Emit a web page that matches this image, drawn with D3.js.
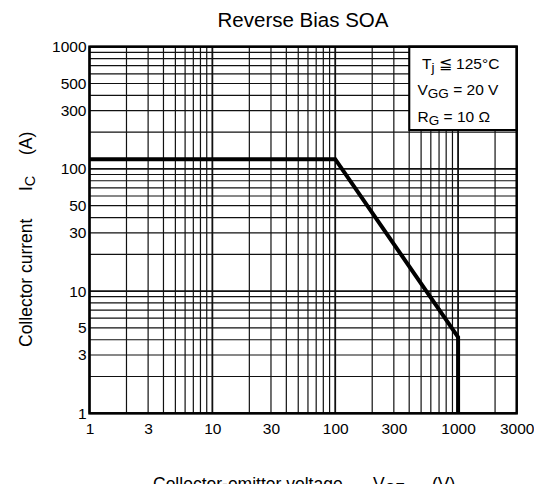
<!DOCTYPE html>
<html>
<head>
<meta charset="utf-8">
<script src="https://cdn.jsdelivr.net/npm/d3@7"></script>
<style>
  html, body { margin: 0; padding: 0; background: #fff; }
  svg { display: block; font-family: "Liberation Sans", Arial, sans-serif; }
</style>
</head>
<body>
<svg id="chart" width="534" height="484"></svg>
<script>
// Reverse-bias safe operating area boundary (collector-emitter voltage vs. collector current)
const boundaryVoltage = [1, 100, 1000, 1000];
const boundaryCurrent = [120, 120, 4.2, 1];

// Axis tick labels
const xTickValues = [1, 3, 10, 30, 100, 300, 1000, 3000];
const yTickValues = [1, 3, 5, 10, 30, 50, 100, 300, 500, 1000];

// Conditions shown in the box
const conditionLines = [
  { main: "T", sub: "j", rest: " \u2266 125\u00b0C" },
  { main: "V", sub: "GG", rest: " = 20 V" },
  { main: "R", sub: "G", rest: " = 10 \u03a9" }
];

const svg = d3.select("#chart");
const plotL = 89.5, plotR = 516.7, plotT = 46.7, plotB = 413.3;

const x = d3.scaleLog().domain([1, 3000]).range([plotL, plotR]);
const y = d3.scaleLog().domain([1, 1000]).range([plotB, plotT]);

// minor + major grid values
const xGrid = [];
for (let d = 1; d <= 1000; d *= 10) for (let m = 1; m <= 9; m++) { const v = d * m; if (v <= 3000) xGrid.push(v); }
const yGrid = [];
for (let d = 1; d <= 100; d *= 10) for (let m = 1; m <= 9; m++) yGrid.push(d * m);
yGrid.push(1000);

const isDecade = v => Math.abs(Math.log10(v) - Math.round(Math.log10(v))) < 1e-9;

const grid = svg.append("g");
grid.selectAll("line.v").data(xGrid).join("line")
  .attr("class", "v")
  .attr("x1", d => x(d)).attr("x2", d => x(d))
  .attr("y1", plotT).attr("y2", plotB)
  .attr("stroke", "#111")
  .attr("stroke-width", d => isDecade(d) ? 1.8 : 1.2);
grid.selectAll("line.h").data(yGrid).join("line")
  .attr("class", "h")
  .attr("x1", plotL).attr("x2", plotR)
  .attr("y1", d => y(d)).attr("y2", d => y(d))
  .attr("stroke", "#111")
  .attr("stroke-width", d => isDecade(d) ? 1.8 : 1.2);

// boundary curve
const line = d3.line().x(d => x(d[0])).y(d => y(d[1]));
svg.append("path")
  .datum(boundaryVoltage.map((v, i) => [v, boundaryCurrent[i]]))
  .attr("d", line)
  .attr("fill", "none")
  .attr("stroke", "#000")
  .attr("stroke-width", 4)
  .attr("stroke-linejoin", "miter");

// condition box
const boxLeft = 409.3, boxBottom = 130;
svg.append("rect")
  .attr("x", boxLeft).attr("y", plotT)
  .attr("width", plotR - boxLeft).attr("height", boxBottom - plotT)
  .attr("fill", "#fff").attr("stroke", "#000").attr("stroke-width", 2);

const condX = [422, 417.5, 417.5];
const condY = [69, 95, 121.5];
conditionLines.forEach((c, i) => {
  const t = svg.append("text")
    .attr("x", condX[i]).attr("y", condY[i])
    .attr("font-size", 15.5).attr("fill", "#000");
  t.append("tspan").text(c.main);
  t.append("tspan").attr("dy", 3).attr("font-size", 13.5).text(c.sub);
  t.append("tspan").attr("dy", -3).text(c.rest);
});

// frame
svg.append("rect")
  .attr("x", plotL).attr("y", plotT)
  .attr("width", plotR - plotL).attr("height", plotB - plotT)
  .attr("fill", "none").attr("stroke", "#000").attr("stroke-width", 2.5);

// axes (labels only; frame drawn above)
const xAxis = d3.axisBottom(x).tickValues(xTickValues).tickFormat(d3.format("d")).tickSize(0).tickPadding(10);
svg.append("g").attr("transform", `translate(0,${plotB})`).call(xAxis)
  .call(g => g.select(".domain").remove())
  .call(g => g.selectAll("text").attr("font-size", 15.5).attr("font-family", "Liberation Sans, Arial, sans-serif").attr("fill", "#000"));

const yAxis = d3.axisLeft(y).tickValues(yTickValues).tickFormat(d3.format("d")).tickSize(0).tickPadding(3);
svg.append("g").attr("transform", `translate(${plotL},0)`).call(yAxis)
  .call(g => g.select(".domain").remove())
  .call(g => g.selectAll("text").attr("font-size", 15.5).attr("font-family", "Liberation Sans, Arial, sans-serif").attr("fill", "#000"));

// title
svg.append("text")
  .attr("x", 303).attr("y", 27)
  .attr("text-anchor", "middle")
  .attr("font-size", 20.5)
  .text("Reverse Bias SOA");

// y axis title
const yt = svg.append("g").attr("transform", "translate(32,0) rotate(-90)");
yt.append("text").attr("x", -347).attr("y", 0).attr("font-size", 17.5).text("Collector current");
const ic = yt.append("text").attr("x", -191).attr("y", 0).attr("font-size", 17.5);
ic.append("tspan").text("I");
ic.append("tspan").attr("dy", 3).attr("font-size", 14.5).text("C");
yt.append("text").attr("x", -155).attr("y", 0).attr("font-size", 17.5).text("(A)");

// x axis title
svg.append("text").attr("x", 153).attr("y", 490).attr("font-size", 17.5).text("Collector-emitter voltage");
const vce = svg.append("text").attr("x", 373).attr("y", 490).attr("font-size", 17.5);
vce.append("tspan").text("V");
vce.append("tspan").attr("dy", 3).attr("font-size", 14.5).text("CE");
svg.append("text").attr("x", 432).attr("y", 490).attr("font-size", 17.5).text("(V)");
</script>
</body>
</html>
